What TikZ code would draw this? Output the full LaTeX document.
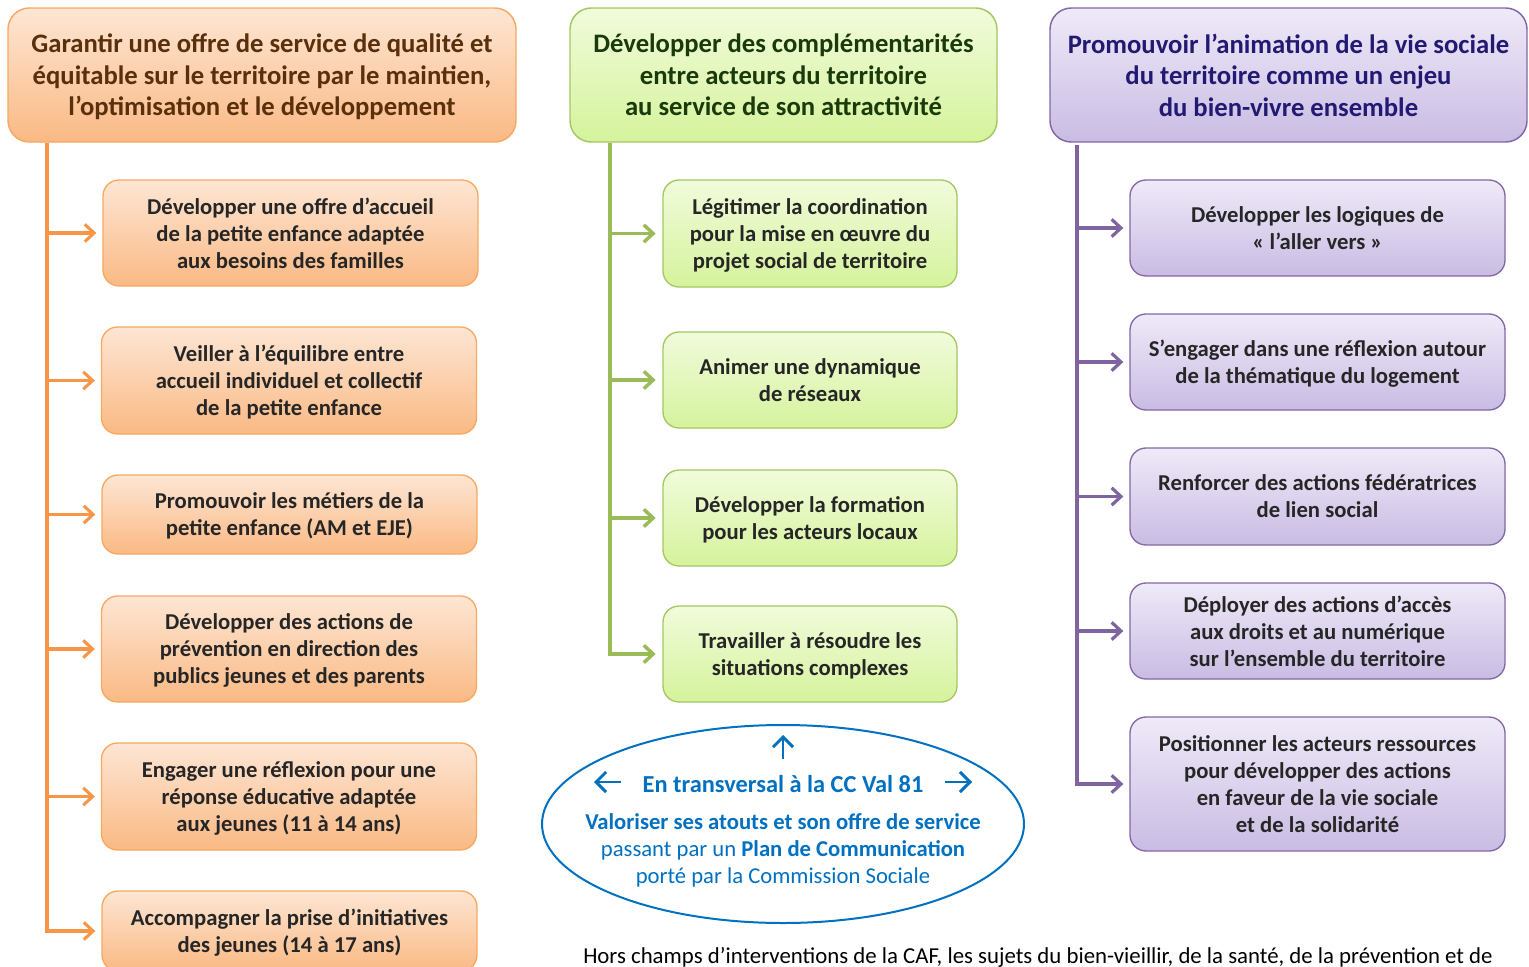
\documentclass[tikz,border=0pt]{standalone}
\usepackage{fontspec}
\setmainfont{Carlito}
\usetikzlibrary{shapes.geometric,arrows.meta}
\definecolor{oBorder}{HTML}{F6A960}
\definecolor{oLine}{HTML}{F79646}
\definecolor{oTop}{HTML}{FDE6D4}
\definecolor{oBot}{HTML}{FAB984}
\definecolor{oText}{HTML}{5A300C}
\definecolor{gBorder}{HTML}{A5C763}
\definecolor{gLine}{HTML}{9BBB59}
\definecolor{gTop}{HTML}{F1FBDB}
\definecolor{gBot}{HTML}{D5F39C}
\definecolor{gText}{HTML}{1B3A0B}
\definecolor{pBorder}{HTML}{8467A6}
\definecolor{pLine}{HTML}{8064A2}
\definecolor{pTop}{HTML}{EFEAF8}
\definecolor{pBot}{HTML}{C9BCE3}
\definecolor{pText}{HTML}{221A72}
\definecolor{bodyText}{HTML}{262626}
\definecolor{bleu}{HTML}{0070C0}
\newcommand{\nodepth}[1]{\raisebox{0pt}[\height][0pt]{#1}}
\begin{document}
\begin{tikzpicture}[x=0.75pt,y=-0.75pt,
  hdr/.style={rounded corners=16pt, line width=1.1pt, align=center, inner sep=0pt,
    font=\fontsize{20}{23.6}\selectfont\bfseries},
  ohdr/.style={hdr, draw=oBorder, top color=oTop, bottom color=oBot, text=oText, minimum height=100.5pt},
  ghdr/.style={hdr, draw=gBorder, top color=gTop, bottom color=gBot, text=gText, minimum height=100.5pt},
  phdr/.style={hdr, draw=pBorder, top color=pTop, bottom color=pBot, text=pText, minimum height=100.5pt},
  cbox/.style={rounded corners=12pt, line width=1pt, align=center, inner sep=0pt, text=bodyText,
    font=\fontsize{17}{20.25}\selectfont\bfseries},
  obox/.style={cbox, draw=oBorder, top color=oTop, bottom color=oBot, minimum width=281.25pt},
  gbox/.style={cbox, draw=gBorder, top color=gTop, bottom color=gBot, minimum width=220.5pt},
  pbox/.style={cbox, draw=pBorder, top color=pTop, bottom color=pBot, minimum width=281.25pt},
  barb/.style={-{Straight Barb[length=7pt,width=13pt]}},
  oarr/.style={barb, draw=oLine, line width=2.3pt, shorten >=4.5pt},
  garr/.style={barb, draw=gLine, line width=2.6pt, shorten >=5pt},
  parr/.style={barb, draw=pLine, line width=2.4pt, shorten >=4.5pt},
  barr/.style={-{Straight Barb[length=7.5pt,width=15pt]}, draw=bleu, line width=2.2pt}
]
\useasboundingbox (0,0) rectangle (1529,967);

% Orange column
\node[ohdr, minimum width=381pt] (oh) at (262,75) {Garantir une offre de service de qualité et\\équitable sur le territoire par le maintien,\\\nodepth{l’optimisation et le développement}};
\node[obox, minimum height=79.5pt] (o1) at (290.5,233) {Développer une offre d’accueil\\de la petite enfance adaptée\\\nodepth{aux besoins des familles}};
\node[obox, minimum height=80.25pt] (o2) at (289,380.5) {Veiller à l’équilibre entre\\accueil individuel et collectif\\\nodepth{de la petite enfance}};
\node[obox, minimum height=59.25pt] (o3) at (289.5,514.5) {Promouvoir les métiers de la\\\nodepth{petite enfance (AM et EJE)}};
\node[obox, minimum height=79.5pt] (o4) at (289,649) {Développer des actions de\\prévention en direction des\\\nodepth{publics jeunes et des parents}};
\node[obox, minimum height=80.25pt] (o5) at (289,796.5) {Engager une réflexion pour une\\réponse éducative adaptée\\\nodepth{aux jeunes (11 à 14 ans)}};
\node[obox, minimum height=60pt] (o6) at (289.5,931) {Accompagner la prise d’initiatives\\\nodepth{des jeunes (14 à 17 ans)}};
\coordinate (otop) at (47,143);
\foreach \b in {o1,o2,o3,o4,o5,o6} \draw[oarr] (otop) |- (\b.west);

% Green column
\node[ghdr, minimum width=320.25pt] (gh) at (783.5,75) {Développer des complémentarités\\entre acteurs du territoire\\au service de son attractivité};
\node[gbox, minimum height=80.25pt] (g1) at (810,233.5) {Légitimer la coordination\\pour la mise en œuvre du\\\nodepth{projet social de territoire}};
\node[gbox, minimum height=72pt] (g2) at (810,380) {Animer une dynamique\\\nodepth{de réseaux}};
\node[gbox, minimum height=72pt] (g3) at (810,518) {Développer la formation\\\nodepth{pour les acteurs locaux}};
\node[gbox, minimum height=72pt] (g4) at (810,654) {Travailler à résoudre les\\\nodepth{situations complexes}};
\coordinate (gtop) at (610,143);
\foreach \b in {g1,g2,g3,g4} \draw[garr] (gtop) |- (\b.west);

% Purple column
\node[phdr, minimum width=357.75pt] (ph) at (1288.5,75) {Promouvoir l’animation de la vie sociale\\du territoire comme un enjeu\\du bien-vivre ensemble};
\node[pbox, minimum height=72pt] (p1) at (1317.5,228) {Développer les logiques de\\«~l’aller vers~»};
\node[pbox, minimum height=72pt] (p2) at (1317.5,362) {S’engager dans une réflexion autour\\\nodepth{de la thématique du logement}};
\node[pbox, minimum height=72.75pt] (p3) at (1317.5,496.5) {Renforcer des actions fédératrices\\de lien social};
\node[pbox, minimum height=72pt] (p4) at (1317.5,631) {Déployer des actions d’accès\\aux droits et au numérique\\sur l’ensemble du territoire};
\node[pbox, minimum height=100.5pt] (p5) at (1317.5,784) {Positionner les acteurs ressources\\pour développer des actions\\en faveur de la vie sociale\\et de la solidarité};
\coordinate (ptop) at (1077,145);
\foreach \b in {p1,p2,p3,p4,p5} \draw[parr] (ptop) |- (\b.west);

% Transversal ellipse
\node[ellipse, draw=bleu, line width=1.5pt, minimum width=361.5pt, minimum height=148.5pt, inner sep=0pt] (ell) at (783,824) {};
\node[text=bleu, font=\fontsize{18.3}{22}\selectfont\bfseries, inner sep=0pt] (trans) at (783,784) {En transversal à la CC Val 81};
\node[text=bleu, font=\fontsize{17}{20.25}\selectfont, align=center, inner sep=0pt] (valo) at (783,850) {\textbf{Valoriser ses atouts et son offre de service}\\passant par un \textbf{Plan de Communication}\\porté par la Commission Sociale};
\coordinate (upA) at (783,759);
\coordinate (upB) at (783,735);
\coordinate (lfA) at (621,782);
\coordinate (lfB) at (594,782);
\coordinate (rtA) at (945,782);
\coordinate (rtB) at (972,782);
\draw[barr] (upA) -- (upB);
\draw[barr] (lfA) -- (lfB);
\draw[barr] (rtA) -- (rtB);

% Bottom note
\node[anchor=west, inner sep=0pt, font=\fontsize{17.1}{20.25}\selectfont, text=black] (note) at (583,957) {Hors champs d’interventions de la CAF, les sujets du bien-vieillir, de la santé, de la prévention et de};
\end{tikzpicture}
\end{document}
